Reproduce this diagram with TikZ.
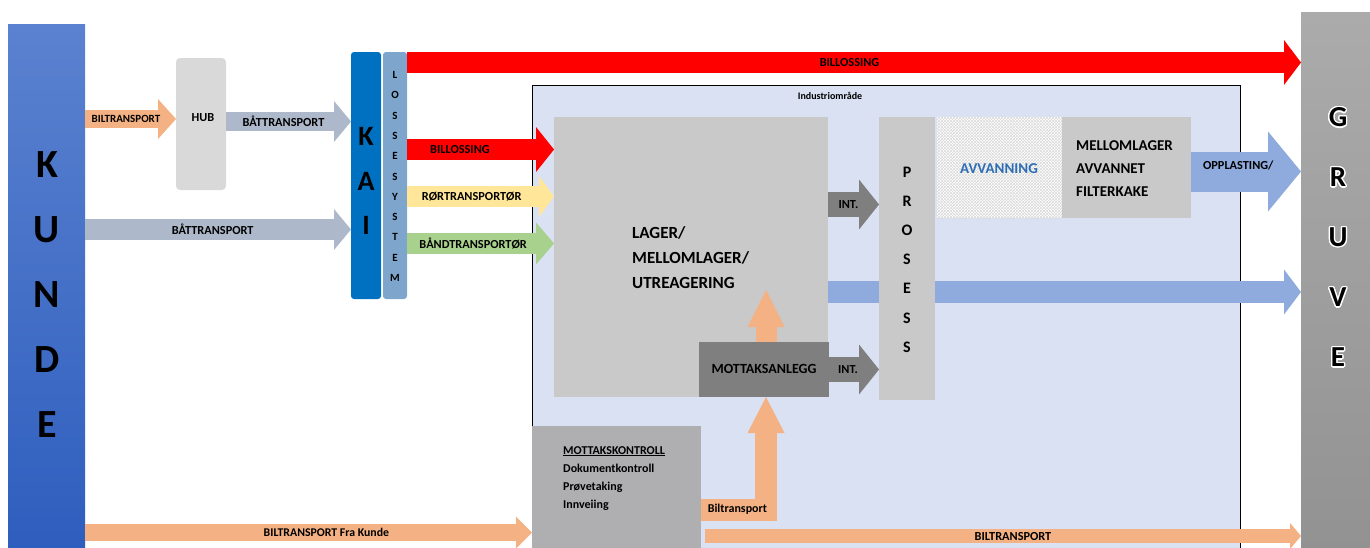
\documentclass[tikz,border=0pt]{standalone}
\usepackage{fontspec}
\setmainfont{Carlito}
\usepackage{contour}
\contourlength{1.3pt}
\usetikzlibrary{arrows.meta,patterns,positioning}

\definecolor{kundetop}{HTML}{5B82D0}
\definecolor{kundebot}{HTML}{2E5EBE}
\definecolor{gruvetop}{HTML}{ABABAB}
\definecolor{gruvebot}{HTML}{929292}
\definecolor{orng}{HTML}{F4B183}
\definecolor{grblue}{HTML}{ADB9CA}
\definecolor{rd}{HTML}{FF0000}
\definecolor{ylw}{HTML}{FFE699}
\definecolor{grn}{HTML}{A9D18E}
\definecolor{lblue}{HTML}{8FAADC}
\definecolor{dgray}{HTML}{7F7F7F}
\definecolor{mgray}{HTML}{C9C9C9}
\definecolor{hubgray}{HTML}{D9D9D9}
\definecolor{kontrgray}{HTML}{AFAFB1}
\definecolor{indfill}{HTML}{DAE1F2}
\definecolor{kaiblue}{HTML}{0070C0}
\definecolor{losseblue}{HTML}{7EA6CC}
\definecolor{avvblue}{HTML}{2E6DB4}

\tikzset{
  box/.style={inner sep=0pt, outer sep=0pt, anchor=north west},
  flow/.style n args={4}{draw=#1, line width=#2,
    -{Triangle[length=#3, width=#4, line width=0pt]}},
  lbl/.style={font=\bfseries\fontsize{12.3}{14}\selectfont, inner sep=0pt},
  big/.style={font=\bfseries\fontsize{#1}{#1}\selectfont, inner sep=0pt},
}

\begin{document}
\begin{tikzpicture}[x=1pt,y=-1pt]
  \useasboundingbox (0,0) rectangle (1370,547);

  % side bars
  \node[box, minimum width=77, minimum height=523, top color=kundetop, bottom color=kundebot] (kunde) at (8,24) {};
  \node[box, minimum width=69, minimum height=540, top color=gruvetop, bottom color=gruvebot] (gruve) at (1301,12) {};
  \foreach \c [count=\i] in {K,U,N,D,E}
    \node[big=40] at (47,100+65*\i) {\c};
  \foreach \c [count=\i] in {G,R,U,V,E}
    \node[big=29] at (1338,58+60*\i) {\contour{white}{\c}};

  % industriomraade
  \node[box, draw=black, line width=1pt, fill=indfill, minimum width=708, minimum height=480] (ind) at (532,85) {};
  \node[lbl, font=\bfseries\fontsize{10}{12}\selectfont] at (830,96) {Industriområde};

  % hub and kai
  \node[box, rounded corners=4pt, fill=hubgray, minimum width=50, minimum height=132] (hub) at (176,58) {};
  \node[lbl] at (203,118) {HUB};
  \node[box, rounded corners=3pt, fill=kaiblue, minimum width=30, minimum height=247] (kai) at (351,52) {};
  \node[box, rounded corners=3pt, fill=losseblue, minimum width=24, minimum height=247] (losse) at (383,52) {};
  \foreach \c [count=\i] in {K,A,I}
    \node[big=28] at (366,92+44.5*\i) {\c};
  \foreach \c [count=\i] in {L,O,S,S,E,S,Y,S,T,E,M}
    \node[big=11] at (395,54.7+20.3*\i) {\c};

  % boxes in the area
  \node[box, fill=mgray, minimum width=274, minimum height=280] (lager) at (554,117) {};
  \node[big=17, anchor=west, align=left, font=\bfseries\fontsize{17}{25}\selectfont] at (632,258) {LAGER/\\MELLOMLAGER/\\UTREAGERING};
  \node[box, fill=dgray, minimum width=130, minimum height=55] (mottak) at (699,342) {};
  \node[big=14] at (764,369) {MOTTAKSANLEGG};
  \node[box, fill=kontrgray, minimum width=169, minimum height=130] (kontroll) at (532,426) {};
  \node[anchor=north west, align=left, inner sep=0pt, font=\bfseries\fontsize{12}{18.3}\selectfont] at (563,446)
    {\underline{MOTTAKSKONTROLL}\\Dokumentkontroll\\Prøvetaking\\Innveiing};
  \node[box, fill=white, minimum width=125, minimum height=101] (avv) at (937,117) {};
  \fill[pattern=crosshatch, pattern color=gray!30] (avv.north west) rectangle (avv.south east);
  \node[big=15, text=avvblue] at (999,169) {AVVANNING};
  \node[box, fill=mgray, minimum width=129, minimum height=101] (filter) at (1062,117) {};
  \node[anchor=west, align=left, inner sep=0pt, font=\bfseries\fontsize{15}{23}\selectfont] at (1076,169)
    {MELLOMLAGER\\AVVANNET\\FILTERKAKE};

  % transport in
  \draw[flow={orng}{18pt}{18pt}{40pt}] (kunde.east |- 0,119) -- (hub.west |- 0,119)
    node[lbl, font=\bfseries\fontsize{11}{13}\selectfont, pos=0.45] {BILTRANSPORT};
  \draw[flow={grblue}{19pt}{17pt}{41pt}] (hub.east |- 0,121.5) -- (kai.west |- 0,121.5)
    node[lbl, pos=0.46] {BÅTTRANSPORT};
  \draw[flow={grblue}{21pt}{17pt}{41pt}] (kunde.east |- 0,229.5) -- (kai.west |- 0,229.5)
    node[lbl, pos=0.48] {BÅTTRANSPORT};
  \draw[flow={orng}{17pt}{16pt}{32pt}] (kunde.east |- 0,532.5) -- (kontroll.west |- 0,532.5)
    node[lbl, font=\bfseries\fontsize{11.8}{13}\selectfont, pos=0.54] {BILTRANSPORT Fra Kunde};

  % from the unloading system
  \draw[flow={rd}{21pt}{17pt}{45pt}] (losse.east |- 0,62.5) -- (gruve.west |- 0,62.5)
    node[lbl, pos=0.495] {BILLOSSING};
  \draw[flow={rd}{21pt}{18pt}{45pt}] (losse.east |- 0,149.5) -- (lager.west |- 0,149.5)
    node[lbl, pos=0.36] {BILLOSSING};
  \draw[flow={ylw}{21pt}{15pt}{41pt}] (losse.east |- 0,196.5) -- (lager.west |- 0,196.5)
    node[lbl, pos=0.44] {RØRTRANSPORTØR};
  \draw[flow={grn}{21pt}{18pt}{42pt}] (losse.east |- 0,243.5) -- (lager.west |- 0,243.5)
    node[lbl, pos=0.45] {BÅNDTRANSPORTØR};

  % through the area
  \draw[flow={lblue}{22pt}{17pt}{45pt}] (lager.east |- 0,292) -- (gruve.west |- 0,292);
  \node[box, fill=mgray, minimum width=56, minimum height=283] (prosess) at (879,117) {};
  \foreach \c [count=\i] in {P,R,O,S,E,S,S}
    \node[big=16] at (907,142.8+29.2*\i) {\c};
  \draw[flow={dgray}{25pt}{20pt}{50pt}] (lager.east |- 0,204.5) -- (prosess.west |- 0,204.5)
    node[lbl, pos=0.4] {INT.};
  \draw[flow={dgray}{25pt}{20pt}{50pt}] (mottak.east |- 0,369.5) -- (prosess.west |- 0,369.5)
    node[lbl, pos=0.38] {INT.};
  \draw[flow={lblue}{40pt}{33pt}{80pt}] (filter.east |- 0,171.5) -- (gruve.west |- 0,171.5)
    node[lbl, pos=0.43, yshift=6pt] {OPPLASTING/};

  % biltransport to the plant
  \coordinate (lagerin) at (766,290);
  \draw[flow={orng}{22pt}{36pt}{37pt}] (kontroll.east |- 0,509.5) -| (mottak.south -| lagerin)
    node[lbl, font=\bfseries\fontsize{12}{14}\selectfont, pos=0.28] {Biltransport};
  \draw[flow={orng}{21pt}{37pt}{37pt}] (mottak.north -| lagerin) -- (lagerin);
  \draw[flow={orng}{14pt}{11pt}{26pt}, shorten <=4pt] (kontroll.east |- 0,536) -- (gruve.west |- 0,536)
    node[lbl, pos=0.52] {BILTRANSPORT};
\end{tikzpicture}
\end{document}
